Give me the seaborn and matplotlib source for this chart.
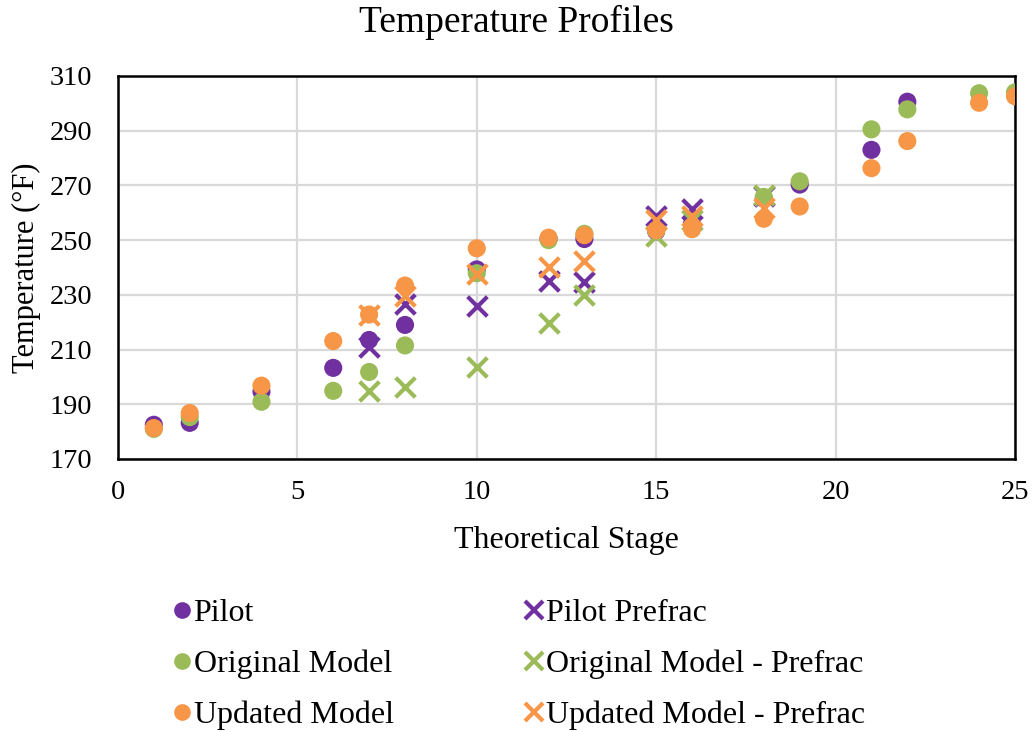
import matplotlib
matplotlib.use("Agg")
import matplotlib.pyplot as plt
import seaborn as sns
import pandas as pd
from matplotlib.lines import Line2D

# ---- data ----
pilot_x = [1, 2, 4, 6, 7, 8, 10, 12, 13, 15, 16, 18, 19, 21, 22]
pilot_y = [182.5, 183.2, 194.6, 203.3, 213.5, 219.0, 239.3, 250.5, 250.4, 253.2, 256.0, 265.2, 270.3, 283.0, 300.6]

orig_x = [1, 2, 4, 6, 7, 8, 10, 12, 13, 15, 16, 18, 19, 21, 22, 24, 25]
orig_y = [181.0, 185.3, 190.9, 194.9, 201.8, 211.5, 237.9, 250.0, 252.3, 253.5, 255.0, 265.8, 271.5, 290.5, 297.8, 303.7, 304.0]

upd_x = [1, 2, 4, 6, 7, 8, 10, 12, 13, 15, 16, 18, 19, 21, 22, 24, 25]
upd_y = [181.3, 186.8, 196.8, 213.1, 222.8, 233.4, 247.0, 250.9, 251.8, 253.6, 254.0, 257.8, 262.3, 276.3, 286.2, 300.2, 302.6]

pilot_pf_x = [7, 8, 10, 12, 13, 15, 16, 18]
pilot_pf_y = [211.0, 226.5, 225.8, 235.2, 234.8, 258.8, 261.5, 266.3]

orig_pf_x = [7, 8, 10, 12, 13, 15, 16, 18]
orig_pf_y = [195.0, 196.4, 203.8, 219.8, 229.8, 251.5, 257.5, 266.5]

upd_pf_x = [7, 8, 10, 12, 13, 15, 16, 18]
upd_pf_y = [222.5, 229.5, 237.5, 240.3, 242.3, 257.2, 258.8, 261.8]

series_names = ["Pilot", "Pilot Prefrac", "Original Model", "Original Model - Prefrac",
                "Updated Model", "Updated Model - Prefrac"]
x_ticks = [0, 5, 10, 15, 20, 25]
y_ticks = [170, 190, 210, 230, 250, 270, 290, 310]

purple = "#7030A0"
green = "#9BBB59"
orange = "#F79646"

# ---- figure ----
sns.set_theme(style="white")
plt.rcParams["font.family"] = ["Liberation Serif", "DejaVu Serif"]
plt.rcParams["text.color"] = "black"
plt.rcParams["axes.labelcolor"] = "black"
plt.rcParams["legend.labelcolor"] = "black"

fig = plt.figure(figsize=(10.32, 7.32), dpi=100)
ax = fig.add_axes([0.1143, 0.3730, 0.8692, 0.5232])

circle_sets = [("Pilot", pilot_x, pilot_y, purple),
               ("Original Model", orig_x, orig_y, green),
               ("Updated Model", upd_x, upd_y, orange)]
cross_sets = [("Pilot Prefrac", pilot_pf_x, pilot_pf_y, purple),
              ("Original Model - Prefrac", orig_pf_x, orig_pf_y, green),
              ("Updated Model - Prefrac", upd_pf_x, upd_pf_y, orange)]

order = [circle_sets[0], cross_sets[0], circle_sets[1], cross_sets[1], circle_sets[2], cross_sets[2]]
for i, (name, xs, ys, col) in enumerate(order):
    df = pd.DataFrame({"stage": xs, "temp": ys})
    if "Prefrac" in name:
        sns.scatterplot(data=df, x="stage", y="temp", ax=ax, marker="x", s=200,
                        color=col, linewidth=3.0, legend=False, zorder=3 + i)
    else:
        sns.scatterplot(data=df, x="stage", y="temp", ax=ax, marker="o", s=170,
                        color=col, edgecolor="none", legend=False, zorder=3 + i)

ax.set_xlim(0, 25)
ax.set_ylim(170, 310)
ax.set_xticks(x_ticks)
ax.set_yticks(y_ticks)
ax.grid(True, color="#d9d9d9", linewidth=1.6)
ax.set_axisbelow(True)
for sp in ax.spines.values():
    sp.set_color("black")
    sp.set_linewidth(1.8)
ax.tick_params(axis="both", length=0, labelsize=20.5, colors="black")
ax.tick_params(axis="y", pad=18.5)
ax.tick_params(axis="x", pad=15.5)
ax.set_xlabel("Theoretical Stage", fontsize=23, color="black", labelpad=15)
ax.set_ylabel("Temperature (°F)", fontsize=22, color="black", labelpad=6)
fig.text(0.5, 0.97, "Temperature Profiles", fontsize=27, color="black",
         ha="center", va="center")

handles = []
labels = []
for name, xs, ys, col in circle_sets:
    handles.append(Line2D([], [], linestyle="none", marker="o", markersize=12,
                          markerfacecolor=col, markeredgecolor="none"))
    labels.append(name)
for name, xs, ys, col in cross_sets:
    handles.append(Line2D([], [], linestyle="none", marker="x", markersize=13,
                          markeredgewidth=3, color=col))
    labels.append(name)

fig.legend(handles, labels, ncol=2, loc="upper left", bbox_to_anchor=(0.156, 0.2),
           frameon=False, fontsize=23, handlelength=0.5, handletextpad=0.12,
           columnspacing=4.15, labelspacing=0.68, borderaxespad=0)

fig.savefig("out.png", dpi=100)
